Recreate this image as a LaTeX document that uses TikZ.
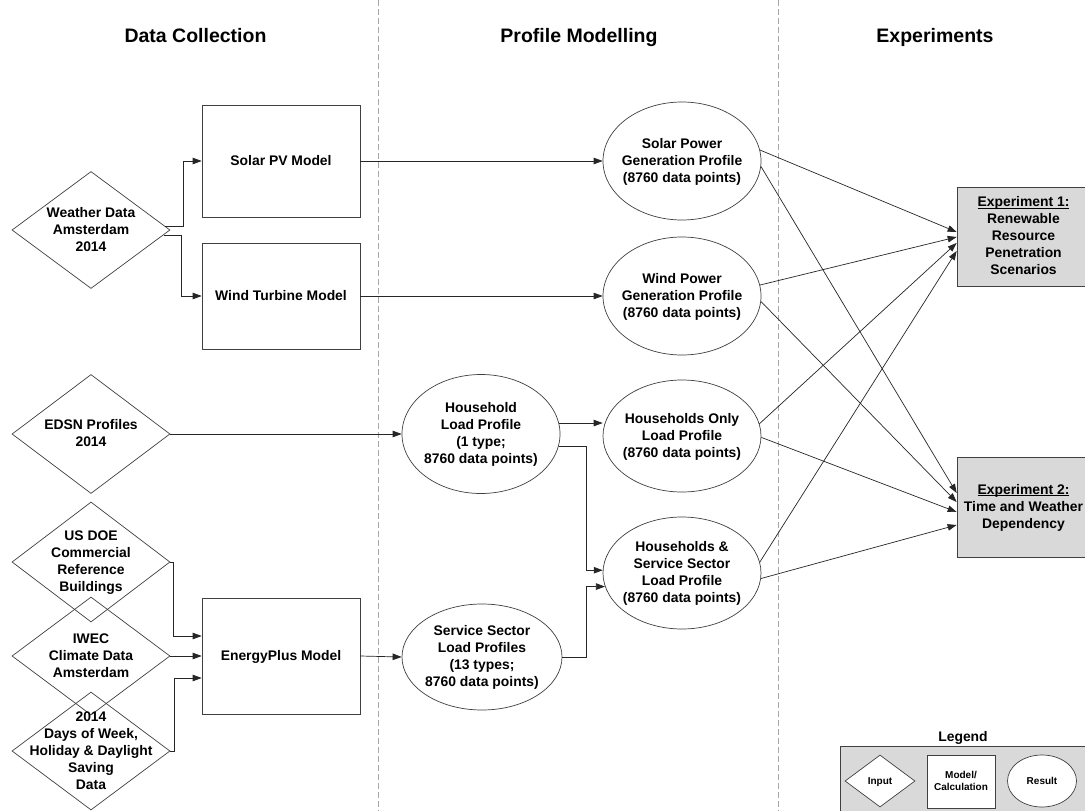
\documentclass[tikz,border=0pt]{standalone}
\usepackage{fontspec}
\setmainfont{Liberation Sans}
\usetikzlibrary{shapes.geometric,arrows.meta}
\newcommand\ntxt[1]{\smash{\raisebox{-4.5pt}{\makebox[0pt]{\begin{tabular}{@{}c@{}}#1\end{tabular}}}}}
\newcommand\ltxt[1]{\smash{\raisebox{-3pt}{\makebox[0pt]{\begin{tabular}{@{}c@{}}#1\end{tabular}}}}}
\newcommand\ulx[1]{\setbox0\hbox{#1}\rlap{\rule[-1.8pt]{\wd0}{0.9pt}}\box0}
\newcommand\mainfnt{\fontsize{13.9}{17}\selectfont\bfseries}
\newcommand\legfnt{\fontsize{10}{12.5}\selectfont\bfseries}
\begin{document}
\begin{tikzpicture}[x=1pt,y=-1pt,
  every node/.style={font=\mainfnt, text=black},
  modelbox/.style={draw=black!75, line width=0.7pt, rectangle, minimum width=158pt, inner sep=0pt},
  resultell/.style={draw=black!75, line width=0.7pt, ellipse, minimum width=158pt, inner sep=0pt},
  inputd/.style={draw=black!75, line width=0.7pt, diamond, minimum width=158pt, inner sep=0pt},
  expbox/.style={draw=black!75, line width=0.7pt, fill=black!15, rectangle, minimum width=133pt, inner sep=0pt},
  arr/.style={draw=black!85, line width=0.7pt, -{Triangle[length=9pt,width=6.5pt]}},
  sep/.style={draw=black!35, line width=0.8pt, dash pattern=on 6pt off 3pt},
  header/.style={font=\fontsize{19.5}{23}\selectfont\bfseries, anchor=base}
]
\clip (0,0) rectangle (1085,811);
\fill[white] (0,0) rectangle (1085,811);

% separators
\draw[sep] (378,0) -- (378,811);
\draw[sep] (778,0) -- (778,811);

% headers
\node[header] (h1) at (195.5,42) {Data Collection};
\node[header] (h2) at (579,42) {Profile Modelling};
\node[header] (h3) at (935,42) {Experiments};

% inputs
\node[inputd, minimum height=117pt] (weather) at (91,230) {\ntxt{Weather Data\\Amsterdam\\2014}};
\node[inputd, minimum height=119pt] (edsn) at (91,434) {\ntxt{EDSN Profiles\\2014}};
\node[inputd, minimum height=120pt] (usdoe) at (91,562) {\ntxt{US DOE\\Commercial\\Reference\\Buildings}};
\node[inputd, minimum height=118pt] (iwec) at (91,656) {\ntxt{IWEC\\Climate Data\\Amsterdam}};
\node[inputd, minimum height=118pt] (days) at (91,751) {\ntxt{2014\\Days of Week,\\Holiday \& Daylight\\Saving\\Data}};

% models
\node[modelbox, minimum height=112pt] (solarpv) at (281,161) {\ntxt{Solar PV Model}};
\node[modelbox, minimum height=106pt] (windtm) at (281,296) {\ntxt{Wind Turbine Model}};
\node[modelbox, minimum height=116pt] (energy) at (281,656) {\ntxt{EnergyPlus Model}};

% results
\node[resultell, minimum height=118pt] (solarp) at (682,161) {\ntxt{Solar Power\\Generation Profile\\(8760 data points)}};
\node[resultell, minimum height=118pt] (windp) at (682,296) {\ntxt{Wind Power\\Generation Profile\\(8760 data points)}};
\node[resultell, minimum height=119pt] (household) at (481,434) {\ntxt{Household\\Load Profile\\(1 type;\\8760 data points)}};
\node[resultell, minimum height=112pt] (ho) at (682,436) {\ntxt{Households Only\\Load Profile\\(8760 data points)}};
\node[resultell, minimum height=112pt] (hss) at (682,573) {\ntxt{Households \&\\Service Sector\\Load Profile\\(8760 data points)}};
\node[resultell, minimum width=160pt, minimum height=106pt] (service) at (482,657) {\ntxt{Service Sector\\Load Profiles\\(13 types;\\8760 data points)}};

% experiments
\node[expbox, minimum height=99pt] (exp1) at (1023.5,236.5) {\ntxt{\ulx{Experiment 1:}\\Renewable\\Resource\\Penetration\\Scenarios}};
\node[expbox, minimum height=100pt] (exp2) at (1023.5,507) {\ntxt{\ulx{Experiment 2:}\\Time and Weather\\Dependency}};

% connectors: data collection
\draw[arr] (weather.3) -- ++(18.5,0) |- (solarpv.west);
\draw[arr] (weather.-4) -- ++(17.5,0) |- (windtm.west);
\draw[arr] (usdoe.east) -- ++(3,0) |- ([yshift=20pt]energy.west);
\draw[arr] (iwec.east) -- (energy.west);
\draw[arr] (days.east) -- ++(4,0) |- ([yshift=-22pt]energy.west);

\draw[arr] (solarpv.east) -- (solarp.west);
\draw[arr] (windtm.east) -- (windp.west);
\draw[arr] (edsn.east) -- (household.west);
\draw[arr] (energy.east) -- (service.west);

\coordinate (jx) at (586,0);
\draw[arr] (household.8) -- (household.8 -| ho.west);
\draw[arr] (household.-9) -- (household.-9 -| jx) |- (hss.178);
\draw[arr] (service.east) -- (service.east -| jx) |- (hss.190);

% to experiments
\draw[arr] (solarp.8) -- ([yshift=4.5pt]exp1.west);
\draw[arr] (windp.8) -- ([yshift=-0.5pt]exp1.west);
\draw[arr] (ho.9) -- ([yshift=-6.5pt]exp1.west);
\draw[arr] (hss.8) -- ([yshift=-14.5pt]exp1.west);
\draw[arr] (solarp.-4) -- ([yshift=14pt]exp2.west);
\draw[arr] (windp.-4) -- ([yshift=5pt]exp2.west);
\draw[arr] (ho.-1) -- ([yshift=-5pt]exp2.west);
\draw[arr] (hss.-4) -- ([yshift=-18pt]exp2.west);

% legend
\node (legt) at (963,738) {Legend};
\node[draw=black!75, line width=0.7pt, fill=black!15, anchor=north west, minimum width=260pt, minimum height=80pt, inner sep=0pt] (legbox) at (840,746) {};
\node[inputd, fill=white, minimum width=70pt, minimum height=52pt, font=\legfnt] (legin) at (880,781) {\ltxt{Input}};
\node[modelbox, fill=white, minimum width=68pt, minimum height=53pt, font=\legfnt] (legmod) at (961,781.5) {\ltxt{Model/\\Calculation}};
\node[resultell, fill=white, minimum width=69pt, minimum height=52pt, font=\legfnt] (legres) at (1042,781) {\ltxt{Result}};
\end{tikzpicture}
\end{document}
